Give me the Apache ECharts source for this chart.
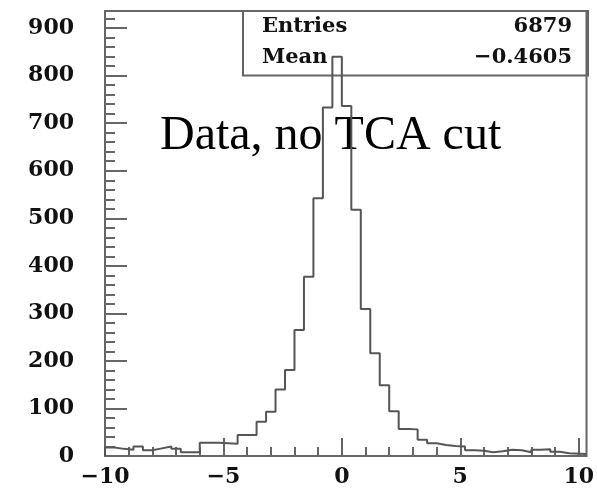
<!DOCTYPE html>
<html>
<head>
<meta charset="utf-8">
<script src="https://cdn.jsdelivr.net/npm/echarts@6/dist/echarts.min.js"></script>
<style>
  html, body { margin: 0; padding: 0; background: #fff; }
  #chart { width: 597px; height: 490px; }
</style>
</head>
<body>
<div id="chart"></div>
<script>
// histogram: 50 bins, width 0.4, starting at -10
const binLow = -10;
const binWidth = 0.4;
const counts = [
  18, 15, 13, 20, 12, 16, 20, 15, 8, 8,
  28, 28, 27, 26, 44, 44, 72, 93, 140, 181,
  265, 377, 542, 733, 840, 736, 518, 309, 216, 149,
  94, 57, 56, 34, 27, 23, 21, 20, 12, 11,
  8, 10, 13, 12, 8, 13, 14, 9, 6, 4
];
const xTickLabels = [-10, -5, 0, 5, 10];
const yTickLabels = [0, 100, 200, 300, 400, 500, 600, 700, 800, 900];
const statNames = ['Entries', 'Mean'];
const statValues = ['6879', '\u22120.4605'];
const note = 'Data, no TCA cut';

const xMin = -10, xMax = 10.33;
const yMin = 0, yMax = 936;

const serifBold = '"DejaVu Serif", serif';
const frameColor = '#666';

// minor tick positions (every 1 on x, every 20 on y)
const xMinor = [];
for (let v = -10; v <= 10; v += 1) xMinor.push(v);
const yMinor = [];
for (let v = 0; v <= 920; v += 20) yMinor.push(v);

// step outline: one point per bin left edge, then close at the right side
const points = [[binLow, 0]];
counts.forEach((c, i) => points.push([binLow + i * binWidth, c]));
points.push([xMax, counts[counts.length - 1]]);

const minus = v => String(v).replace('-', '\u2212');

const chart = echarts.init(document.getElementById('chart'));

const axisBase = {
  type: 'value',
  axisLine: { show: false, onZero: false },
  splitLine: { show: false },
};

chart.setOption({
  animation: false,
  backgroundColor: '#fff',
  grid: {
    left: 105, right: 9, top: 11, bottom: 34,
    show: true, borderColor: frameColor, borderWidth: 2,
    backgroundColor: 'transparent',
  },
  xAxis: [
    {
      ...axisBase,
      min: xMin, max: xMax,
      axisTick: {
        inside: true, length: 18, customValues: xTickLabels,
        lineStyle: { color: frameColor, width: 2 },
      },
      axisLabel: {
        customValues: xTickLabels, formatter: minus, margin: 10,
        fontFamily: serifBold, fontWeight: 'bold', fontSize: 22, color: '#111',
      },
    },
    {
      ...axisBase,
      position: 'bottom',
      min: xMin, max: xMax,
      axisTick: {
        inside: true, length: 9, customValues: xMinor,
        lineStyle: { color: frameColor, width: 2 },
      },
      axisLabel: { show: false },
    },
  ],
  yAxis: [
    {
      ...axisBase,
      position: 'left',
      min: yMin, max: yMax,
      axisTick: {
        inside: true, length: 22, customValues: yTickLabels,
        lineStyle: { color: frameColor, width: 2 },
      },
      axisLabel: {
        customValues: yTickLabels, margin: 31, padding: [0, 0, 11, 0],
        fontFamily: serifBold, fontWeight: 'bold', fontSize: 22, color: '#111',
      },
    },
    {
      ...axisBase,
      position: 'left',
      min: yMin, max: yMax,
      axisTick: {
        inside: true, length: 10, customValues: yMinor,
        lineStyle: { color: frameColor, width: 2 },
      },
      axisLabel: { show: false },
    },
  ],
  series: [{
    type: 'line',
    xAxisIndex: 0,
    yAxisIndex: 0,
    step: 'end',
    symbol: 'none',
    data: points,
    lineStyle: { color: '#555', width: 2 },
  }],
  graphic: [
    {
      type: 'rect',
      shape: { x: 243, y: 11, width: 345, height: 64.5 },
      style: { fill: 'none', stroke: frameColor, lineWidth: 2 },
    },
    {
      type: 'text', left: 262, top: 16,
      style: { text: statNames[0], font: 'bold 21px ' + serifBold, fill: '#111' },
    },
    {
      type: 'text', left: 262, top: 47,
      style: { text: statNames[1], font: 'bold 21px ' + serifBold, fill: '#111' },
    },
    {
      type: 'text', right: 25, top: 16,
      style: { text: statValues[0], font: 'bold 21px ' + serifBold, fill: '#111' },
    },
    {
      type: 'text', right: 25, top: 47,
      style: { text: statValues[1], font: 'bold 21px ' + serifBold, fill: '#111' },
    },
    {
      type: 'text', left: 160, top: 112,
      style: { text: note, font: '48px "Liberation Serif", serif', fill: '#000' },
    },
  ],
});
</script>
</body>
</html>
